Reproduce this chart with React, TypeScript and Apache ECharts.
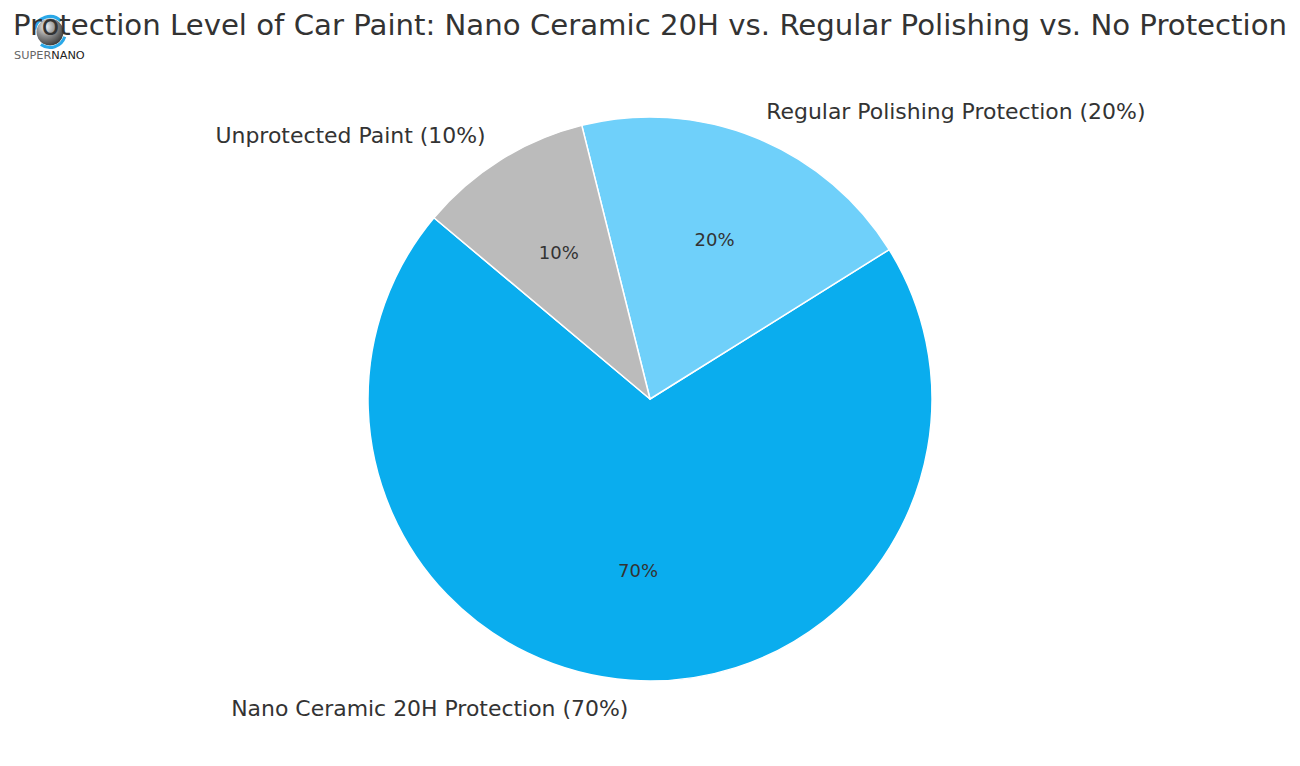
import React, { useEffect, useRef } from "react";
import * as echarts from "echarts";

const titleText =
  "Protection Level of Car Paint: Nano Ceramic 20H vs. Regular Polishing vs. No Protection";
const categories = [
  "Nano Ceramic 20H Protection",
  "Regular Polishing Protection",
  "Unprotected Paint",
];
const values = [70, 20, 10];
const colors = ["#0aadee", "#6fd0fa", "#bbbbbb"];

const FONT = "DejaVu Sans";
const R = 282;

export default function App() {
  const ref = useRef<HTMLDivElement>(null);
  useEffect(() => {
    if (!ref.current) return;
    const chart = echarts.init(ref.current, null, { renderer: "svg" });
    const data = categories.map((name, i) => ({
      name,
      value: values[i],
      itemStyle: { color: colors[i] },
    }));
    chart.setOption({
      animation: false,
      backgroundColor: "#ffffff",
      title: {
        text: titleText,
        left: "center",
        top: 5,
        textStyle: {
          fontFamily: FONT,
          fontSize: 29.2,
          fontWeight: "normal",
          color: "#333333",
        },
      },
      graphic: [
        {
          type: "group",
          z: 100,
          children: [
            {
              type: "circle",
              shape: { cx: 50, cy: 32, r: 13.5 },
              style: {
                fill: new echarts.graphic.RadialGradient(0.35, 0.3, 0.8, [
                  { offset: 0, color: "#f4f4f4" },
                  { offset: 0.45, color: "#8e8e8e" },
                  { offset: 1, color: "#2e2e2e" },
                ]),
              },
            },
            {
              type: "arc",
              shape: { cx: 50, cy: 32, r: 15.5, startAngle: Math.PI * 1.05, endAngle: Math.PI * 1.75 },
              style: { stroke: "#2aa8e8", lineWidth: 3, fill: "none" },
            },
            {
              type: "arc",
              shape: { cx: 50, cy: 32, r: 15.5, startAngle: Math.PI * 0.1, endAngle: Math.PI * 0.7 },
              style: { stroke: "#2aa8e8", lineWidth: 3, fill: "none" },
            },
            {
              type: "text",
              x: 14,
              y: 50,
              style: {
                text: "{a|SUPER}{b|NANO}",
                rich: {
                  a: { fontFamily: FONT, fontSize: 11.3, fill: "#666666", color: "#666666" },
                  b: { fontFamily: FONT, fontSize: 11.3, fill: "#222222", color: "#222222" },
                },
              },
            },
          ],
        },
      ],
      series: [
        {
          type: "pie",
          center: [650, 399],
          radius: [0, R],
          startAngle: 140,
          clockwise: false,
          avoidLabelOverlap: false,
          silent: true,
          itemStyle: { borderColor: "#ffffff", borderWidth: 1.5 },
          label: {
            show: true,
            position: "outside",
            distanceToLabelLine: 0,
            formatter: (p: any) => `${p.name} (${p.value}%)`,
            fontFamily: FONT,
            fontSize: 21.95,
            color: "#333333",
          },
          labelLine: { show: false, length: R * 0.1, length2: 0 },
          data,
        },
        {
          type: "pie",
          center: [650, 399],
          radius: [0, R * 1.2],
          startAngle: 140,
          clockwise: false,
          avoidLabelOverlap: false,
          silent: true,
          itemStyle: { color: "rgba(0,0,0,0)", borderWidth: 0 },
          label: {
            show: true,
            position: "inside",
            formatter: (p: any) => `${p.value}%`,
            fontFamily: FONT,
            fontSize: 18,
            color: "#333333",
          },
          labelLine: { show: false },
          data: categories.map((name, i) => ({ name, value: values[i] })),
        },
      ],
    });
    return () => chart.dispose();
  }, []);
  return (
    <div
      ref={ref}
      style={{ position: "fixed", left: 0, top: 0, width: 1300, height: 766 }}
    />
  );
}
